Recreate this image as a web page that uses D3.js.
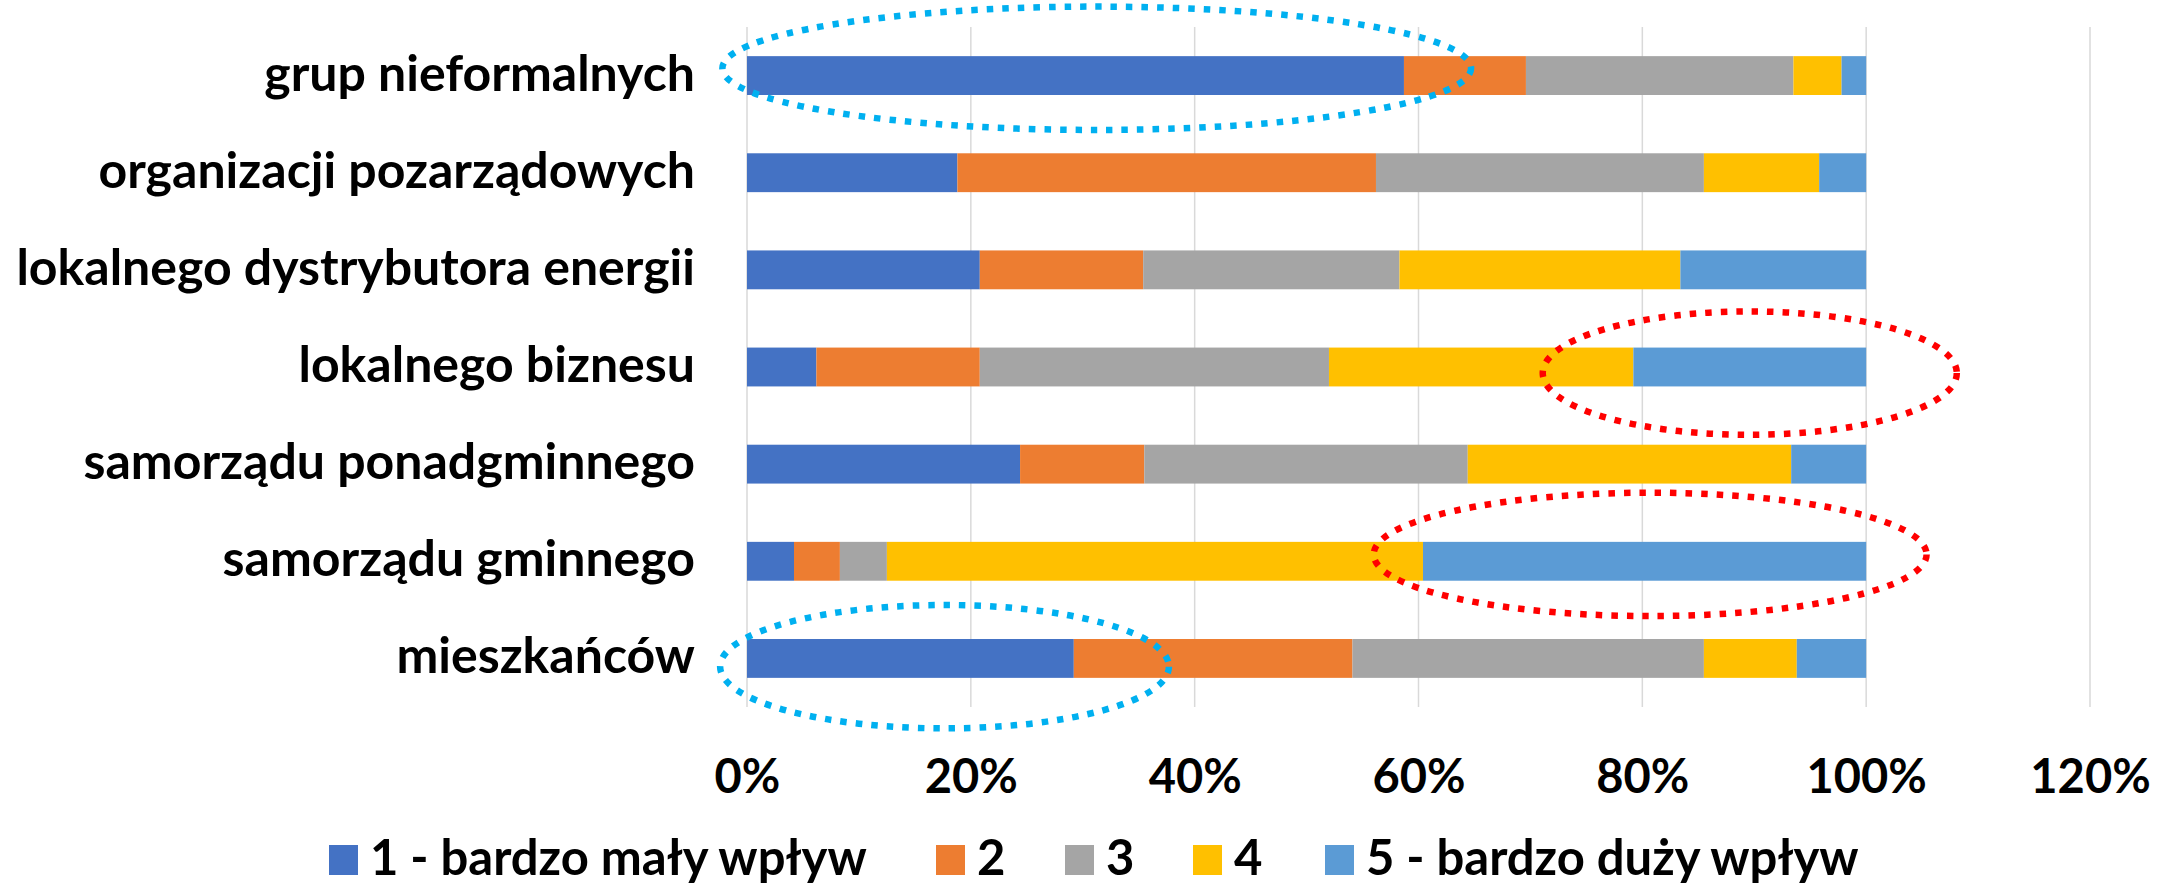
<!DOCTYPE html>
<html>
<head>
<meta charset="utf-8">
<script src="https://cdn.jsdelivr.net/npm/d3@7"></script>
<style>
  html, body { margin: 0; padding: 0; background: #ffffff; }
  svg { display: block; }
  text { font-family: "Lato", "Carlito", "Liberation Sans", sans-serif; font-weight: 700; fill: #000; }
</style>
</head>
<body>
<svg id="chart" width="2168" height="888"></svg>
<script>
// ---- data ----
const categories = [
  "grup nieformalnych",
  "organizacji pozarządowych",
  "lokalnego dystrybutora energii",
  "lokalnego biznesu",
  "samorządu ponadgminnego",
  "samorządu gminnego",
  "mieszkańców"
];
const seriesNames = ["1 - bardzo mały wpływ", "2", "3", "4", "5 - bardzo duży wpływ"];
const seriesColors = ["#4472C4", "#ED7D31", "#A5A5A5", "#FFC000", "#5B9BD5"];
// share of answers (%) per category, one array per series
const s1 = [58.7, 18.8, 20.8, 6.2, 24.4, 4.2, 29.2];
const s2 = [10.9, 37.4, 14.6, 14.6, 11.1, 4.1, 24.9];
const s3 = [23.9, 29.3, 22.9, 31.2, 28.9, 4.2, 31.4];
const s4 = [4.3, 10.3, 25.1, 27.2, 28.9, 47.9, 8.3];
const s5 = [2.2, 4.2, 16.6, 20.8, 6.7, 39.6, 6.2];
const tickValues = [0, 20, 40, 60, 80, 100, 120];
// highlight ellipses (data units: percent range, category, vertical offset in band steps)
const highlightCat = ["grup nieformalnych", "lokalnego biznesu", "samorządu gminnego", "mieszkańców"];
const highlightX0 = [-2.2, 71.1, 56.0, -2.4];
const highlightX1 = [64.7, 108.1, 105.4, 37.7];
const highlightDy = [-0.075, 0.063, -0.071, 0.085];
const highlightColor = ["#00B0F0", "#FF0000", "#FF0000", "#00B0F0"];

// ---- layout ----
const svg = d3.select("#chart");
const plot = { left: 747, right: 2090, top: 27, bottom: 707 };

const x = d3.scaleLinear().domain([0, 120]).range([plot.left, plot.right]);
const y = d3.scaleBand().domain(categories).range([plot.top, plot.bottom])
  .paddingInner(0.6).paddingOuter(0.3);

// gridlines
svg.append("g").selectAll("line").data(tickValues).join("line")
  .attr("x1", d => x(d)).attr("x2", d => x(d))
  .attr("y1", plot.top).attr("y2", plot.bottom)
  .attr("stroke", "#D9D9D9").attr("stroke-width", 1.5);

// stacked bars
const seriesData = [s1, s2, s3, s4, s5];
const rows = categories.map((c, i) => {
  const r = { cat: c };
  seriesNames.forEach((n, k) => r[n] = seriesData[k][i]);
  return r;
});
const stack = d3.stack().keys(seriesNames)(rows);
svg.append("g").selectAll("g").data(stack).join("g")
  .attr("fill", (d, i) => seriesColors[i])
  .selectAll("rect").data(d => d).join("rect")
  .attr("x", d => x(d[0]))
  .attr("width", d => x(d[1]) - x(d[0]))
  .attr("y", d => y(d.data.cat))
  .attr("height", y.bandwidth());

// category labels
svg.append("g").selectAll("text").data(categories).join("text")
  .attr("x", 695)
  .attr("y", d => y(d) + y.bandwidth() / 2)
  .attr("dy", "0.3em")
  .attr("text-anchor", "end")
  .style("font-size", "50px")
  .text(d => d);

// x tick labels
const xAxis = d3.axisBottom(x).tickValues(tickValues).tickFormat(d => d + "%").tickSize(0).tickPadding(0);
const gx = svg.append("g").attr("transform", `translate(0, 793)`).call(xAxis);
gx.select(".domain").remove();
gx.selectAll("text").attr("y", 0).attr("dy", 0)
  .style("font-size", "47px").style("font-family", null).attr("fill", "#000");

// highlight ellipses
const step = y.step();
svg.append("g").selectAll("ellipse").data(highlightCat).join("ellipse")
  .attr("cx", (d, i) => (x(highlightX0[i]) + x(highlightX1[i])) / 2)
  .attr("cy", (d, i) => y(d) + y.bandwidth() / 2 + highlightDy[i] * step)
  .attr("rx", (d, i) => (x(highlightX1[i]) - x(highlightX0[i])) / 2)
  .attr("ry", step * 0.635)
  .attr("fill", "none")
  .attr("stroke", (d, i) => highlightColor[i])
  .attr("stroke-width", 6.5)
  .attr("stroke-dasharray", "6.5 9");

// legend
const legendX = [329, 936, 1065, 1193, 1325];
const legend = svg.append("g");
seriesNames.forEach((n, i) => {
  const g = legend.append("g");
  g.append("rect").attr("x", legendX[i]).attr("y", 845).attr("width", 29).attr("height", 30).attr("fill", seriesColors[i]);
  g.append("text").attr("x", legendX[i] + 41).attr("y", 875).style("font-size", "49px").text(n);
});
</script>
</body>
</html>
